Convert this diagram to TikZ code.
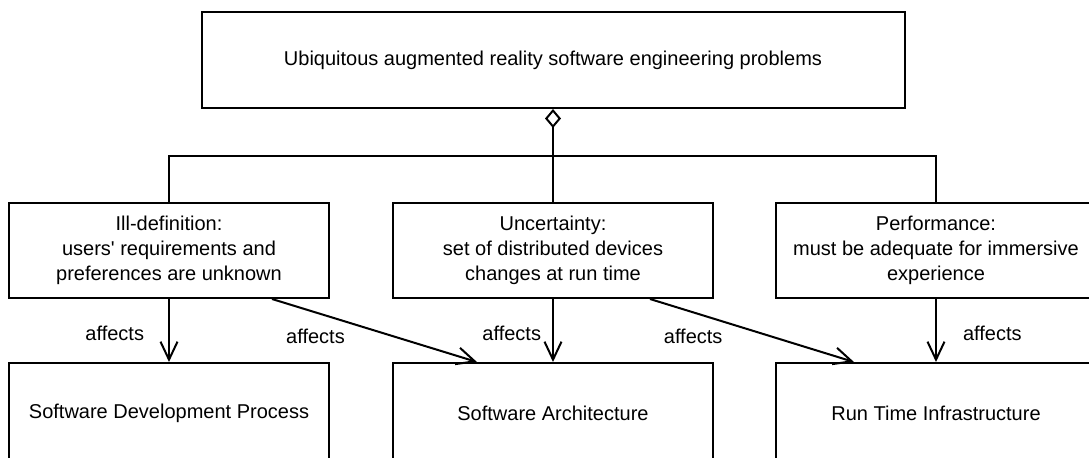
\documentclass[tikz,border=0pt]{standalone}
\usepackage{fontspec}
\setmainfont{Liberation Sans}
\usetikzlibrary{arrows.meta}
\begin{document}
\begin{tikzpicture}[x=0.5pt, y=-0.5pt,
        caja/.style={draw, line width=1pt, minimum width=160pt, minimum height=47.5pt,
            inner sep=0pt, align=center, font=\fontsize{10}{12.5}\selectfont},
        flecha/.style={-{Straight Barb[length=9pt, width=8.5pt]}, line width=1pt},
        etiqueta/.style={inner sep=0pt, font=\fontsize{10}{12}\selectfont}]
    \useasboundingbox (0,0) rectangle (1089,457);
    % Problema general
    \node[caja, minimum width=351.5pt, minimum height=48pt] (ubiq) at (553,60)
        {Ubiquitous augmented reality software engineering problems};
    % Problemas
    \node[caja] (ill) at (169,250.5) {Ill-definition:\\users\textquotesingle{} requirements and\\preferences are unknown};
    \node[caja] (unc) at (553,250.5) {Uncertainty:\\set of distributed devices\\changes at run time};
    \node[caja] (perf) at (936,250.5) {Performance:\\must be adequate for immersive\\experience};
    % Areas
    \node[caja, minimum height=50pt] (proc) at (169,413) {Software Development Process};
    \node[caja, minimum height=50pt] (arch) at (553,413) {Software Architecture};
    \node[caja, minimum height=50pt] (infra) at (936,413) {Run Time Infrastructure};
    % Agregacion
    \coordinate (bus) at (553,156);
    \draw[line width=1pt, {Diamond[open, length=9.5pt, width=8pt]}-] (ubiq.south) -- (unc.north);
    \draw[line width=1pt] (ill.north) |- (bus) -| (perf.north);
    % Relaciones
    \draw[flecha] (ill) -- node[etiqueta, left=12pt, yshift=-1.5pt] {affects} (proc);
    \draw[flecha] (unc) -- node[etiqueta, left=5.5pt, yshift=-1.5pt] {affects} (arch);
    \draw[flecha] (perf) -- node[etiqueta, right=13pt, yshift=-1.5pt] {affects} (infra);
    \draw[flecha] ([xshift=51.5pt]ill.south) -- node[etiqueta, pos=0.36, anchor=north east, yshift=-3pt] {affects} ([xshift=-38pt]arch.north);
    \draw[flecha] ([xshift=48.5pt]unc.south) -- node[etiqueta, pos=0.36, anchor=north east, yshift=-3pt] {affects} ([xshift=-41pt]infra.north);
\end{tikzpicture}
\end{document}
